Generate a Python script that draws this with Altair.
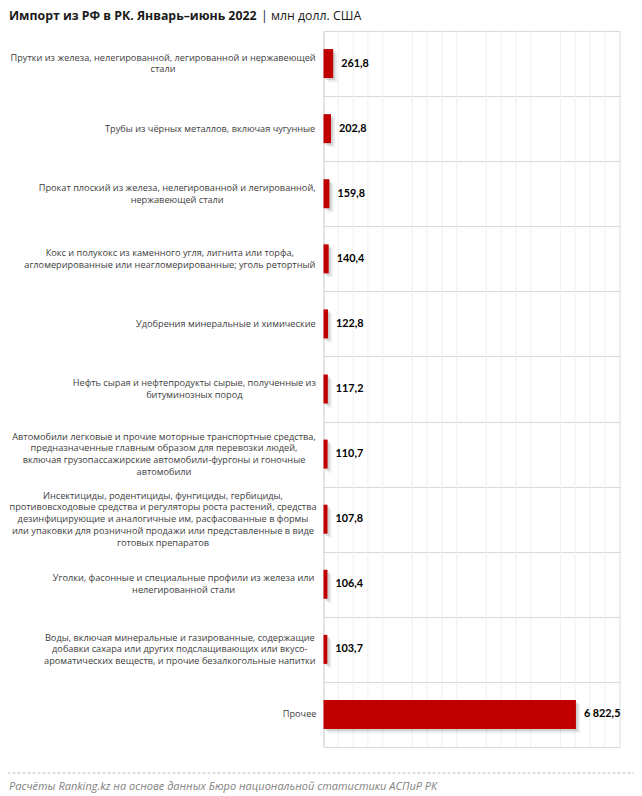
import altair as alt
import pandas as pd

categories = [
    "Прутки из железа, нелегированной, легированной и нержавеющей\nстали",
    "Трубы из чёрных металлов, включая чугунные",
    "Прокат плоский из железа, нелегированной и легированной,\nнержавеющей стали",
    "Кокс и полукокс из каменного угля, лигнита или торфа,\nагломерированные или неагломерированные; уголь ретортный",
    "Удобрения минеральные и химические",
    "Нефть сырая и нефтепродукты сырые, полученные из\nбитуминозных пород",
    "Автомобили легковые и прочие моторные транспортные средства,\nпредназначенные главным образом для перевозки людей,\nвключая грузопассажирские автомобили-фургоны и гоночные\nавтомобили",
    "Инсектициды, родентициды, фунгициды, гербициды,\nпротивовсходовые средства и регуляторы роста растений, средства\nдезинфицирующие и аналогичные им, расфасованные в формы\nили упаковки для розничной продажи или представленные в виде\nготовых препаратов",
    "Уголки, фасонные и специальные профили из железа или\nнелегированной стали",
    "Воды, включая минеральные и газированные, содержащие\nдобавки сахара или других подслащивающих или вкусо-\nароматических веществ, и прочие безалкогольные напитки",
    "Прочее",
]
values = [261.8, 202.8, 159.8, 140.4, 122.8, 117.2, 110.7, 107.8, 106.4, 103.7, 6822.5]
value_labels = ["261,8", "202,8", "159,8", "140,4", "122,8", "117,2", "110,7", "107,8", "106,4", "103,7", "6 822,5"]
major_ticks = [0, 2000, 4000, 6000, 8000]
minor_ticks = [400, 800, 1200, 1600, 2400, 2800, 3200, 3600, 4400, 4800, 5200, 5600, 6400, 6800, 7200, 7600]

title_bold = "Импорт из РФ в РК. Январь–июнь 2022"
title_unit = "|  млн долл. США"
footer = "Расчёты Ranking.kz на основе данных Бюро национальной статистики АСПиР РК"

# --- approximate text metrics (Open Sans advance widths, units per em = 2048) ---
CAT_FONT_SIZE = 9.2
LINE_H = 11.7
_adv = {
    "а": 1139, "б": 1200, "в": 1130, "г": 885, "д": 1150, "е": 1149, "ё": 1149, "ж": 1550,
    "з": 990, "и": 1300, "й": 1300, "к": 1110, "л": 1230, "м": 1560, "н": 1300, "о": 1237,
    "п": 1300, "р": 1255, "с": 975, "т": 950, "у": 1032, "ф": 1600, "х": 1087, "ц": 1320,
    "ч": 1200, "ш": 1880, "щ": 1900, "ъ": 1280, "ы": 1560, "ь": 1130, "э": 1000, "ю": 1750,
    "я": 1150, " ": 532, ",": 500, ".": 545, ";": 545, "-": 659,
}


def text_width(s, size):
    return sum(_adv.get(ch, 1300) for ch in s) / 2048.0 * size


LABEL_RIGHT = -7.5  # right edge of label block relative to plot left

rows = []
for c, v, lab in zip(categories, values, value_labels):
    lines = c.split("\n")
    bw = max(text_width(ln, CAT_FONT_SIZE) for ln in lines)
    rows.append({"cat": c, "value": v, "label": lab, "n": len(lines), "cx": LABEL_RIGHT - bw / 2})
df = pd.DataFrame(rows)
minor_df = pd.DataFrame({"v": minor_ticks})

W, H = 296, 716

y_enc = alt.Y(
    "cat:N",
    sort=categories,
    scale=alt.Scale(paddingInner=0, paddingOuter=0),
    axis=alt.Axis(
        title=None, labels=False, ticks=False, grid=True, tickBand="extent",
        gridColor="#d9d9d9", domainColor="#d9d9d9",
    ),
)
x_enc = alt.X(
    "value:Q",
    scale=alt.Scale(domain=[0, 8000], nice=False),
    axis=alt.Axis(
        title=None, values=major_ticks, grid=True, gridDash=[4, 3], gridColor="#d0d0d0",
        domain=False, ticks=False, labelColor="#595959", labelFontSize=10,
        labelFont="Open Sans", labelPadding=14,
        labelExpr="replace(format(datum.value, '.1f'), '.', ',')",
    ),
)

minor = alt.Chart(minor_df).mark_rule(color="#efefef", strokeWidth=1).encode(
    x=alt.X("v:Q", scale=alt.Scale(domain=[0, 8000], nice=False), axis=None)
)

base = alt.Chart(df)
shadow1 = base.mark_bar(color="#000000", opacity=0.07, size=29, xOffset=4, yOffset=4).encode(x=x_enc, y=y_enc)
shadow2 = base.mark_bar(color="#000000", opacity=0.12, size=29, xOffset=2, yOffset=2).encode(x=x_enc, y=y_enc)
bars = base.mark_bar(color="#C00000", size=29).encode(x=x_enc, y=y_enc)
vlabels = base.mark_text(
    align="left", baseline="middle", dx=8, fontWeight="bold", fontSize=10.8,
    font="Lato", color="#000000",
).encode(x=x_enc, y=y_enc, text="label:N")

clayers = []
for n in sorted(df["n"].unique()):
    clayers.append(
        base.transform_filter(alt.datum.n == int(n)).mark_text(
            align="center", baseline="middle", lineBreak="\n", lineHeight=LINE_H,
            fontSize=CAT_FONT_SIZE, font="Open Sans", color="#404040",
            dy=-(int(n) - 1) * LINE_H / 2,
        ).encode(x=alt.X("cx:Q", scale=None), y=y_enc, text="cat:N")
    )

title1 = alt.Chart(pd.DataFrame({"t": [title_bold]})).mark_text(
    align="left", baseline="middle", fontSize=12.3, fontWeight="bold", font="Open Sans", color="#1a1a1a"
).encode(x=alt.value(-314.5), y=alt.value(-15.5), text="t:N")
title2 = alt.Chart(pd.DataFrame({"t": [title_unit]})).mark_text(
    align="left", baseline="middle", fontSize=12.3, font="Open Sans", color="#1a1a1a"
).encode(x=alt.value(-62.5), y=alt.value(-15.5), text="t:N")

footer_line = alt.Chart(pd.DataFrame({"a": [0]})).mark_rule(
    color="#bfbfbf", strokeDash=[3, 2], strokeWidth=1
).encode(x=alt.value(-316), x2=alt.value(312), y=alt.value(742))
footer_text = alt.Chart(pd.DataFrame({"t": [footer]})).mark_text(
    align="left", baseline="middle", fontSize=11, fontStyle="italic", font="Open Sans", color="#7f7f7f"
).encode(x=alt.value(-314.5), y=alt.value(755.5), text="t:N")

chart = alt.layer(
    minor, shadow1, shadow2, bars, vlabels, *clayers, title1, title2, footer_line, footer_text
).properties(
    width=W, height=H,
    autosize=alt.AutoSizeParams(type="none"),
    padding={"left": 315.5, "top": 23, "right": 14, "bottom": 46},
).configure_view(stroke=None).configure(background="white")

chart.save("out.html", embed_options={"renderer": "svg", "actions": False})
